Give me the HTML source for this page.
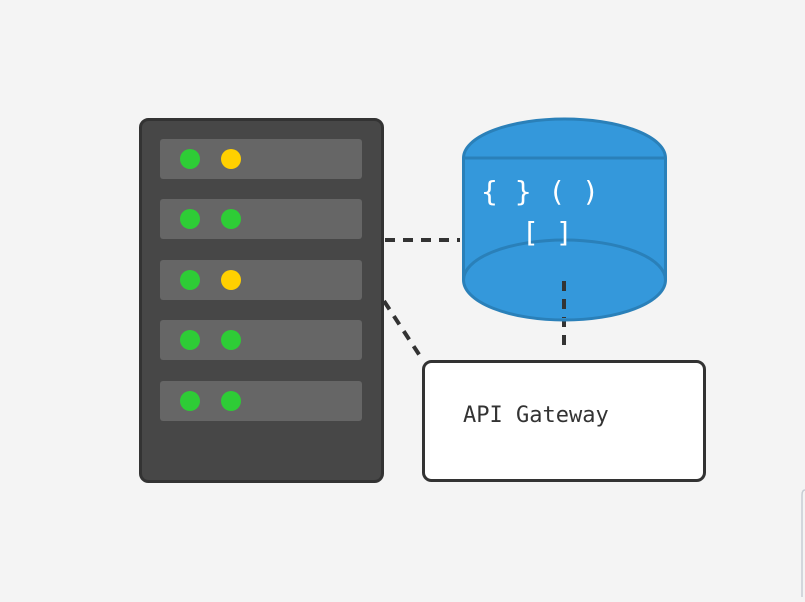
<!DOCTYPE html>
<html><head><style>html,body{margin:0;padding:0;background:#f4f4f4;}</style></head>
<body>
<svg width="805" height="597" viewBox="0 0 805 597" xmlns="http://www.w3.org/2000/svg">
<rect width="805" height="597" fill="#f4f4f4"/>
<rect x="140.5" y="119.5" width="242" height="362" rx="8" fill="#474747" stroke="#333" stroke-width="3"/>
<g fill="#666">
<rect x="160" y="139" width="202" height="40" rx="3"/>
<rect x="160" y="199" width="202" height="40" rx="3"/>
<rect x="160" y="260" width="202" height="40" rx="3"/>
<rect x="160" y="320" width="202" height="40" rx="3"/>
<rect x="160" y="381" width="202" height="40" rx="3"/>
</g>
<g fill="#2ecc36">
<circle cx="190" cy="159" r="10"/>
<circle cx="190" cy="219" r="10"/><circle cx="231" cy="219" r="10"/>
<circle cx="190" cy="280" r="10"/>
<circle cx="190" cy="340" r="10"/><circle cx="231" cy="340" r="10"/>
<circle cx="190" cy="401" r="10"/><circle cx="231" cy="401" r="10"/>
</g>
<g fill="#ffd000">
<circle cx="231" cy="159" r="10"/>
<circle cx="231" cy="280" r="10"/>
</g>
<g stroke="#333" stroke-width="4" stroke-dasharray="10,8" fill="none">
<line x1="385" y1="240" x2="460" y2="240"/>
<line x1="384" y1="301" x2="422" y2="359"/>
<line x1="564" y1="281" x2="564" y2="352"/>
</g>
<path d="M463.5 158 A101 39 0 0 1 665.5 158 L665.5 280 A101 40 0 0 1 463.5 280 Z" fill="#3498db" stroke="#2a80b9" stroke-width="3"/>
<line x1="463.5" y1="158" x2="665.5" y2="158" stroke="#2a80b9" stroke-width="3"/>
<path d="M463.5 280 A101 40 0 0 1 665.5 280" fill="none" stroke="#2a80b9" stroke-width="3"/>
<line x1="564" y1="281" x2="564" y2="318" stroke="#333" stroke-width="4" stroke-dasharray="10,8"/>
<g fill="#fff" font-family="'DejaVu Sans Mono','Liberation Mono',monospace" font-size="28">
<text x="481" y="201">{ } ( )</text>
<text x="522" y="242">[ ]</text>
</g>
<rect x="423.5" y="361.5" width="281" height="119" rx="8" fill="#fff" stroke="#333" stroke-width="3"/>
<text x="463" y="422" font-family="'DejaVu Sans Mono','Liberation Mono',monospace" font-size="22" fill="#333">API Gateway</text>
<path d="M805 490 Q802 490 802 495 L802 597" fill="none" stroke="#c8ccd4" stroke-width="1.5"/>
</svg>
</body></html>
